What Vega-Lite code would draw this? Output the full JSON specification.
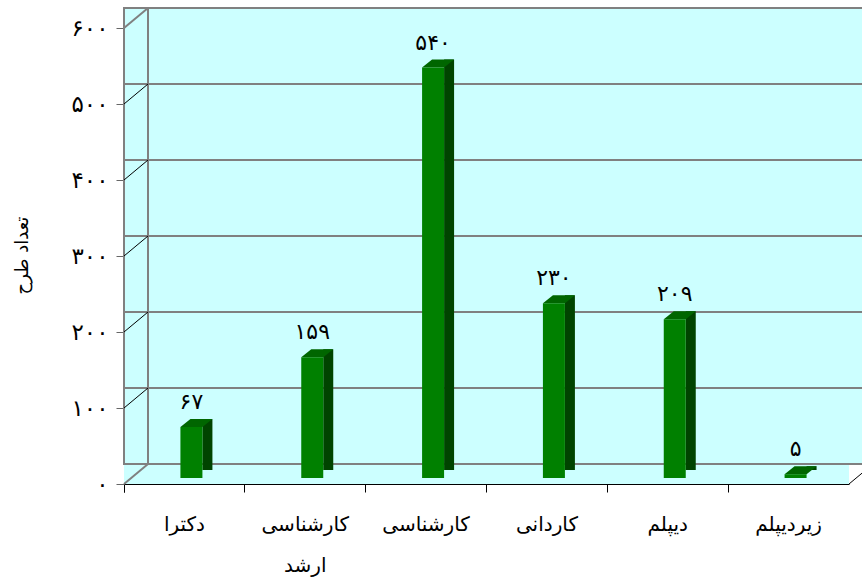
{
  "$schema": "https://vega.github.io/schema/vega-lite/v6.json",
  "width": 725,
  "height": 456,
  "autosize": {"type": "none"},
  "padding": {"left": 124, "top": 28, "right": 13, "bottom": 98},
  "background": "#ffffff",
  "config": {
    "view": {"stroke": null},
    "font": "DejaVu Sans",
    "axis": {"grid": false}
  },
  "datasets": {
    "bars": [
      {"cat": "دکترا", "value": 67, "label": "۶۷"},
      {"cat": "کارشناسی ارشد", "value": 159, "label": "۱۵۹"},
      {"cat": "کارشناسی", "value": 540, "label": "۵۴۰"},
      {"cat": "کاردانی", "value": 230, "label": "۲۳۰"},
      {"cat": "دیپلم", "value": 209, "label": "۲۰۹"},
      {"cat": "زیردیپلم", "value": 5, "label": "۵"}
    ],
    "ticks": [{"v": 0}, {"v": 100}, {"v": 200}, {"v": 300}, {"v": 400}, {"v": 500}, {"v": 600}],
    "wall": [{"lo": 0, "hi": 600}]
  },
  "layer": [
    {
      "data": {"name": "wall"},
      "mark": {"type": "rect", "fill": "#CCFFFF"},
      "encoding": {
        "y": {"field": "lo", "type": "quantitative", "scale": {"domain": [0, 600], "nice": false},
          "axis": {"title": "تعداد طرح", "values": [0, 100, 200, 300, 400, 500, 600],
            "labelExpr": "['۰','۱۰۰','۲۰۰','۳۰۰','۴۰۰','۵۰۰','۶۰۰'][round(datum.value/100)]",
            "labelFontSize": 23, "labelColor": "#000000", "labelPadding": 8, "labelBaseline": "middle",
            "tickSize": 8, "tickColor": "#666666", "domainColor": "#000000", "domainWidth": 1,
            "titleFontSize": 18, "titleFontWeight": "normal", "titleColor": "#000000",
            "titleX": -102, "titleY": 227, "titleAlign": "center", "titleBaseline": "middle", "titleAngle": -90}},
        "y2": {"field": "hi"}
      }
    },
    {
      "data": {"name": "wall"},
      "mark": {"type": "rect", "fill": "#CCFFFF", "stroke": "#808080", "strokeWidth": 2, "xOffset": 24, "x2Offset": 24, "yOffset": -20, "y2Offset": -20},
      "encoding": {
        "y": {"field": "lo", "type": "quantitative"},
        "y2": {"field": "hi"}
      }
    },
    {
      "data": {"name": "ticks"},
      "transform": [{"filter": "datum.v > 0 && datum.v < 600"}],
      "mark": {"type": "rule", "stroke": "#808080", "strokeWidth": 2, "xOffset": 24, "x2Offset": 24, "yOffset": -20, "y2Offset": -20},
      "encoding": {
        "y": {"field": "v", "type": "quantitative"}
      }
    },
    {
      "data": {"name": "wall"},
      "mark": {"type": "rule", "stroke": "#808080", "strokeWidth": 2, "xOffset": 24, "x2Offset": 24, "yOffset": -20, "y2Offset": -20},
      "encoding": {
        "x": {"datum": "دکترا", "type": "nominal", "bandPosition": 0},
        "y": {"field": "lo", "type": "quantitative"},
        "y2": {"field": "hi"}
      }
    },
    {
      "data": {"name": "ticks"},
      "mark": {"type": "rule", "x2Offset": 24, "y2Offset": -20},
      "encoding": {
        "x": {"datum": "دکترا", "type": "nominal", "bandPosition": 0},
        "x2": {"datum": "دکترا", "bandPosition": 0},
        "y": {"field": "v", "type": "quantitative"},
        "y2": {"field": "v"},
        "stroke": {"condition": {"test": "datum.v == 0 || datum.v == 600", "value": "#808080"}, "value": "#000000"},
        "strokeWidth": {"condition": {"test": "datum.v == 0 || datum.v == 600", "value": 2}, "value": 1}
      }
    },
    {
      "data": {"name": "wall"},
      "mark": {"type": "rule", "stroke": "#000000", "strokeWidth": 1, "x2Offset": 24, "y2Offset": -20},
      "encoding": {
        "x": {"datum": "زیردیپلم", "type": "nominal", "bandPosition": 1},
        "x2": {"datum": "زیردیپلم", "bandPosition": 1},
        "y": {"field": "lo", "type": "quantitative"},
        "y2": {"field": "lo"}
      }
    },
    {
      "data": {"name": "bars"},
      "mark": {"type": "bar", "width": 10, "xOffset": 23, "yOffset": -14, "y2Offset": -10, "color": "#004400"},
      "encoding": {
        "x": {"field": "cat", "type": "nominal", "sort": null},
        "y": {"field": "value", "type": "quantitative"}
      }
    },
    {
      "data": {"name": "bars"},
      "mark": {"type": "point", "shape": "M -1 0.25 L 0.375 0.25 L 1 -0.25 L -0.375 -0.25 Z", "size": 1024, "filled": true, "opacity": 1, "strokeWidth": 0, "color": "#006600", "xOffset": 12, "yOffset": -10},
      "encoding": {
        "x": {"field": "cat", "type": "nominal", "sort": null},
        "y": {"field": "value", "type": "quantitative"}
      }
    },
    {
      "data": {"name": "bars"},
      "mark": {"type": "bar", "width": 22, "xOffset": 7, "yOffset": -6, "y2Offset": -6, "color": "#008000"},
      "encoding": {
        "x": {"field": "cat", "type": "nominal", "sort": null,
          "scale": {"domain": ["دکترا", "کارشناسی ارشد", "کارشناسی", "کاردانی", "دیپلم", "زیردیپلم"], "paddingInner": 0, "paddingOuter": 0},
          "axis": {"title": null, "labelAngle": 0, "labelAlign": "center",
            "labelExpr": "indexof(datum.label, ' ') > 0 ? ['\u200e' + split(datum.label, ' ')[0] + '\u200e', '\u200e' + split(datum.label, ' ')[1] + '\u200e'] : '\u200e' + datum.label + '\u200e'",
            "labelFontSize": 20, "labelColor": "#000000", "labelBaseline": "alphabetic", "labelLineHeight": 41,
            "labelPadding": 38, "tickSize": 8, "tickColor": "#000000", "domainColor": "#000000",
            "bandPosition": 0, "tickExtra": true}},
        "y": {"field": "value", "type": "quantitative"}
      }
    },
    {
      "data": {"name": "bars"},
      "mark": {"type": "text", "xOffset": 7, "yOffset": -31, "fontSize": 22, "baseline": "middle", "color": "#000000"},
      "encoding": {
        "x": {"field": "cat", "type": "nominal", "sort": null},
        "y": {"field": "value", "type": "quantitative"},
        "text": {"field": "label"}
      }
    }
  ]
}
